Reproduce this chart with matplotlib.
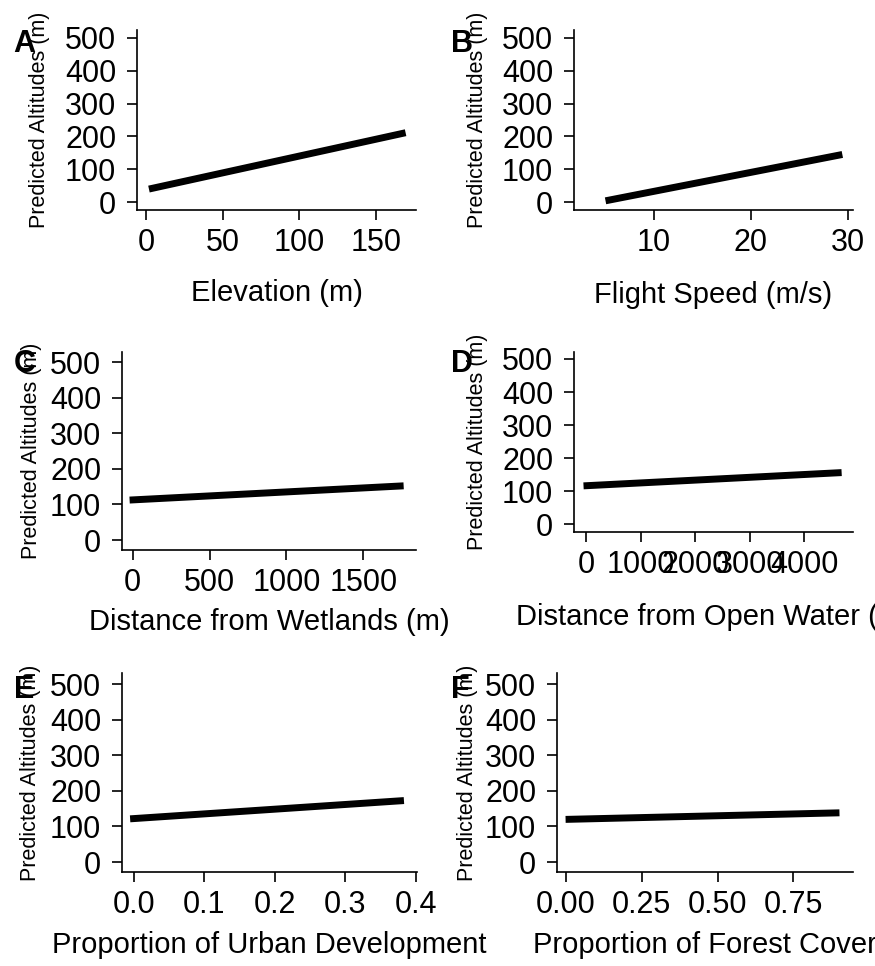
import matplotlib
matplotlib.use("Agg")
import matplotlib.pyplot as plt

plt.rcParams['font.family'] = ['Liberation Sans', 'DejaVu Sans']

# Panel letters and axis titles
letters = ["A", "B", "C", "D", "E", "F"]
x_titles = ["Elevation (m)", "Flight Speed (m/s)", "Distance from Wetlands (m)",
            "Distance from Open Water (m)", "Proportion of Urban Development",
            "Proportion of Forest Cover"]
y_title = "Predicted Altitudes (m)"

# Predicted altitude lines (end points)
elev_x = [4, 167]
elev_y = [42, 209]
speed_x = [5.4, 29.1]
speed_y = [6, 143]
wetland_x = [2, 1740]
wetland_y = [113, 152]
water_x = [18, 4620]
water_y = [117, 156]
urban_x = [0.0, 0.378]
urban_y = [122, 172]
forest_x = [0.011, 0.89]
forest_y = [120, 138]

# Tick values and labels
y_ticks = [0, 100, 200, 300, 400, 500]
elev_ticks = [0, 50, 100, 150]
speed_ticks = [10, 20, 30]
wetland_ticks = [0, 500, 1000, 1500]
water_ticks = [0, 1000, 2000, 3000, 4000]
urban_ticks = [0.0, 0.1, 0.2, 0.3, 0.4]
urban_labels = ["0.0", "0.1", "0.2", "0.3", "0.4"]
forest_ticks = [0.0, 0.25, 0.5, 0.75]
forest_labels = ["0.00", "0.25", "0.50", "0.75"]

W, H = 875, 966
fig = plt.figure(figsize=(W / 100, H / 100), dpi=100)


def add_ax(l, t, r, b):
    return fig.add_axes([l / W, 1 - b / H, (r - l) / W, (b - t) / H])


# pixel boxes (left, top, right, bottom), axis limits, label offsets
panels = [
    dict(box=(137, 30, 416, 210), xlim=(-6, 176), ylim=(-24, 524),
         x=elev_x, y=elev_y, ticks=elev_ticks, labels=None, xoff=83, yoff=97,
         letter=(24, 44)),
    dict(box=(574, 30, 853, 210), xlim=(1.8, 30.55), ylim=(-24, 524),
         x=speed_x, y=speed_y, ticks=speed_ticks, labels=None, xoff=85, yoff=96,
         letter=(462, 44)),
    dict(box=(122, 352, 416, 550), xlim=(-70, 1843), ylim=(-28, 529),
         x=wetland_x, y=wetland_y, ticks=wetland_ticks, labels=None, xoff=72, yoff=90,
         letter=(25, 364)),
    dict(box=(574, 352, 853, 532), xlim=(-220, 4892), ylim=(-23, 521),
         x=water_x, y=water_y, ticks=water_ticks, labels=None, xoff=85, yoff=96,
         letter=(462, 364)),
    dict(box=(122, 673, 417, 872), xlim=(-0.0164, 0.4014), ylim=(-28, 531),
         x=urban_x, y=urban_y, ticks=urban_ticks, labels=urban_labels, xoff=73, yoff=92,
         letter=(24, 690)),
    dict(box=(557, 673, 853, 872), xlim=(-0.0287, 0.946), ylim=(-28, 531),
         x=forest_x, y=forest_y, ticks=forest_ticks, labels=forest_labels, xoff=73, yoff=90,
         letter=(460, 690)),
]

for i, p in enumerate(panels):
    l, t, r, b = p["box"]
    w, h = r - l, b - t
    ax = add_ax(l, t, r, b)
    ax.plot(p["x"], p["y"], color="black", lw=5, solid_capstyle="projecting")
    ax.set_xlim(*p["xlim"])
    ax.set_ylim(*p["ylim"])
    ax.set_yticks(y_ticks)
    ax.set_xticks(p["ticks"])
    if p["labels"] is not None:
        ax.set_xticklabels(p["labels"])
    for s in ["top", "right"]:
        ax.spines[s].set_visible(False)
    for s in ["left", "bottom"]:
        ax.spines[s].set_linewidth(1.2)
    ax.tick_params(axis="both", length=7, width=1.2, labelsize=22, colors="black")
    ax.tick_params(axis="y", pad=8)
    ax.tick_params(axis="x", pad=6)
    ax.set_xlabel(x_titles[i], fontsize=21, va="center")
    ax.xaxis.set_label_coords(0.5, -p["xoff"] / h)
    ax.set_ylabel(y_title, fontsize=15.5, va="center")
    ax.yaxis.set_label_coords(-p["yoff"] / w, 0.5)
    lx, ly = p["letter"]
    fig.text(lx / W, 1 - ly / H, letters[i], fontsize=22, fontweight="bold",
             ha="center", va="center")

fig.savefig("out.png", dpi=100)
